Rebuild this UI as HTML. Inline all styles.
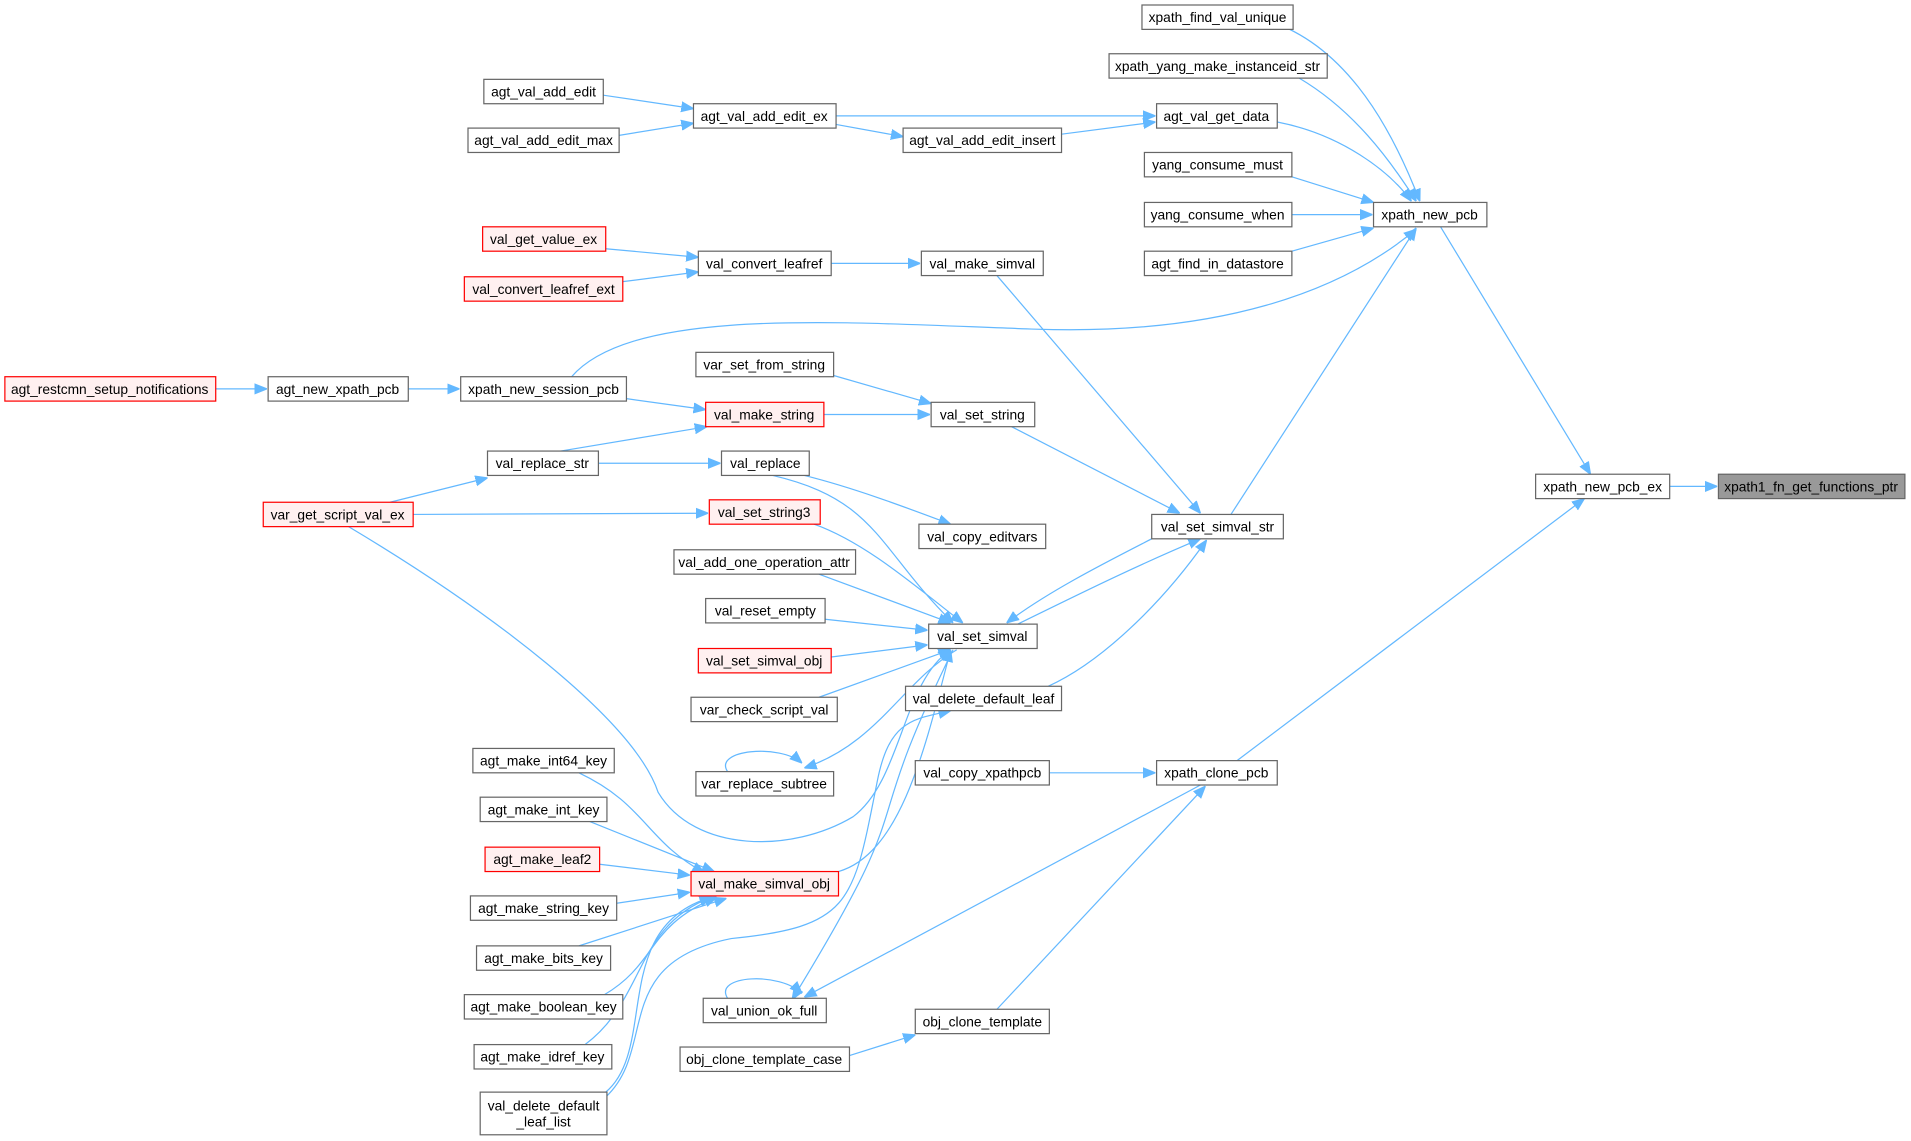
<!DOCTYPE html>
<html><head><meta charset="utf-8"><style>
html,body{margin:0;padding:0;background:#fff;}
svg{display:block}
text{font-family:"Liberation Sans",Arial,sans-serif;font-size:11.3px;fill:#000;text-anchor:middle}
.n{fill:#fff;stroke:#666;stroke-width:1}
.r{fill:#fff0f0;stroke:#ff0000;stroke-width:1}
.g{fill:#999;stroke:#666;stroke-width:1}
path.e{fill:none;stroke:#63b8ff;stroke-width:1}
</style></head><body>
<svg width="1911" height="1141" viewBox="0 0 1568 936" xmlns="http://www.w3.org/2000/svg">
<defs><marker id="a" viewBox="0 0 10 10" refX="10" refY="5" markerWidth="10" markerHeight="10" markerUnits="userSpaceOnUse" orient="auto"><path d="M0,1 L10,5 L0,9 z" fill="#63b8ff" stroke="#63b8ff"/></marker></defs>
<g>
<path class="e" marker-end="url(#a)" d="M1370,399 L1409,399"/>
<path class="e" marker-end="url(#a)" d="M1182,186 L1305,389"/>
<path class="e" marker-end="url(#a)" d="M1015,624 L1300,409"/>
<path class="e" marker-end="url(#a)" d="M1030,14 C1100,30 1140,100 1165,165"/>
<path class="e" marker-end="url(#a)" d="M1066,64 C1110,90 1140,130 1162,165"/>
<path class="e" marker-end="url(#a)" d="M1048,100 C1100,110 1140,140 1158,165"/>
<path class="e" marker-end="url(#a)" d="M1060,145 L1127,166"/>
<path class="e" marker-end="url(#a)" d="M1060,176 L1126,176"/>
<path class="e" marker-end="url(#a)" d="M1060,206 L1127,187"/>
<path class="e" marker-end="url(#a)" d="M1010,422 L1162,187"/>
<path class="e" marker-end="url(#a)" d="M469,309 C520,250 700,265 850,270 C1000,275 1100,240 1162,188"/>
<path class="e" marker-end="url(#a)" d="M495,78 L569,89"/>
<path class="e" marker-end="url(#a)" d="M508,111 L569,101"/>
<path class="e" marker-end="url(#a)" d="M686,95 L948,95"/>
<path class="e" marker-end="url(#a)" d="M686,102 L741,112"/>
<path class="e" marker-end="url(#a)" d="M871,110 L948,100"/>
<path class="e" marker-end="url(#a)" d="M497,204 L573,211"/>
<path class="e" marker-end="url(#a)" d="M511,231 L573,223"/>
<path class="e" marker-end="url(#a)" d="M682,216 L755,216"/>
<path class="e" marker-end="url(#a)" d="M818,226 L985,421"/>
<path class="e" marker-end="url(#a)" d="M684,308 L764,331"/>
<path class="e" marker-end="url(#a)" d="M676,340 L763,340"/>
<path class="e" marker-end="url(#a)" d="M830,350 L968,421"/>
<path class="e" marker-end="url(#a)" d="M177,319 L219,319"/>
<path class="e" marker-end="url(#a)" d="M335,319 L377,319"/>
<path class="e" marker-end="url(#a)" d="M514,327 L579,336"/>
<path class="e" marker-end="url(#a)" d="M460,370 L580,350"/>
<path class="e" marker-end="url(#a)" d="M491,380 L591,380"/>
<path class="e" marker-end="url(#a)" d="M320,412 L400,392"/>
<path class="e" marker-end="url(#a)" d="M339,422 L581,421"/>
<path class="e" marker-end="url(#a)" d="M660,390 C700,400 740,415 780,430"/>
<path class="e" marker-end="url(#a)" d="M634,390 C720,410 720,450 782,511"/>
<path class="e" marker-end="url(#a)" d="M668,430 C710,445 750,480 790,511"/>
<path class="e" marker-end="url(#a)" d="M672,471 L780,511"/>
<path class="e" marker-end="url(#a)" d="M677,508 L761,517"/>
<path class="e" marker-end="url(#a)" d="M682,539 L761,529"/>
<path class="e" marker-end="url(#a)" d="M672,572 L780,533"/>
<path class="e" marker-end="url(#a)" d="M945,442 C910,460 860,485 826,511"/>
<path class="e" marker-end="url(#a)" d="M835,512 C880,490 930,465 985,442"/>
<path class="e" marker-end="url(#a)" d="M286,432 C400,500 520,590 540,650 C570,700 650,700 700,670 C740,640 740,560 780,533"/>
<path class="e" marker-end="url(#a)" d="M785,533 C740,560 720,610 660,630"/>
<path class="e" marker-end="url(#a)" d="M597,633 C585,615 640,610 658,626"/>
<path class="e" marker-end="url(#a)" d="M688,715 C740,700 760,610 780,533"/>
<path class="e" marker-end="url(#a)" d="M860,563 C900,545 950,500 990,443"/>
<path class="e" marker-end="url(#a)" d="M861,634 L948,634"/>
<path class="e" marker-end="url(#a)" d="M985,644 L660,818"/>
<path class="e" marker-end="url(#a)" d="M818,828 L989,645"/>
<path class="e" marker-end="url(#a)" d="M597,819 C585,800 640,797 658,815"/>
<path class="e" marker-end="url(#a)" d="M782,533 C700,700 760,640 650,820"/>
<path class="e" marker-end="url(#a)" d="M697,866 L751,849"/>
<path class="e" marker-end="url(#a)" d="M475,634 C530,660 530,690 578,716"/>
<path class="e" marker-end="url(#a)" d="M484,674 L586,715"/>
<path class="e" marker-end="url(#a)" d="M492,709 L566,718"/>
<path class="e" marker-end="url(#a)" d="M506,741 L566,732"/>
<path class="e" marker-end="url(#a)" d="M475,776 L596,737"/>
<path class="e" marker-end="url(#a)" d="M496,816 C540,790 530,760 588,736"/>
<path class="e" marker-end="url(#a)" d="M480,857 C530,820 520,760 584,736"/>
<path class="e" marker-end="url(#a)" d="M497,896 C540,860 500,760 584,736"/>
<path class="e" marker-end="url(#a)" d="M497,900 C540,860 500,790 600,770 C700,760 700,740 720,640 C730,590 750,590 780,583"/>
</g>
<g>
<rect class="g" x="1410" y="389" width="153" height="20"/><text x="1486" y="403">xpath1_fn_get_functions_ptr</text>
<rect class="n" x="1260" y="389" width="110" height="20"/><text x="1315" y="403">xpath_new_pcb_ex</text>
<rect class="n" x="1127" y="166" width="93" height="20"/><text x="1173" y="180">xpath_new_pcb</text>
<rect class="n" x="949" y="624" width="99" height="20"/><text x="998" y="638">xpath_clone_pcb</text>
<rect class="n" x="937" y="4" width="124" height="20"/><text x="999" y="18">xpath_find_val_unique</text>
<rect class="n" x="910" y="44" width="179" height="20"/><text x="999" y="58">xpath_yang_make_instanceid_str</text>
<rect class="n" x="949" y="85" width="99" height="20"/><text x="998" y="99">agt_val_get_data</text>
<rect class="n" x="939" y="125" width="121" height="20"/><text x="999" y="139">yang_consume_must</text>
<rect class="n" x="939" y="166" width="121" height="20"/><text x="999" y="180">yang_consume_when</text>
<rect class="n" x="939" y="206" width="121" height="20"/><text x="999" y="220">agt_find_in_datastore</text>
<rect class="n" x="945" y="422" width="108" height="20"/><text x="999" y="436">val_set_simval_str</text>
<rect class="n" x="751" y="624" width="110" height="20"/><text x="806" y="638">val_copy_xpathpcb</text>
<rect class="n" x="751" y="828" width="110" height="20"/><text x="806" y="842">obj_clone_template</text>
<rect class="n" x="741" y="105" width="130" height="20"/><text x="806" y="119">agt_val_add_edit_insert</text>
<rect class="n" x="569" y="85" width="117" height="20"/><text x="627" y="99">agt_val_add_edit_ex</text>
<rect class="n" x="397" y="65" width="98" height="20"/><text x="446" y="79">agt_val_add_edit</text>
<rect class="n" x="384" y="105" width="124" height="20"/><text x="446" y="119">agt_val_add_edit_max</text>
<rect class="n" x="756" y="206" width="100" height="20"/><text x="806" y="220">val_make_simval</text>
<rect class="n" x="573" y="206" width="109" height="20"/><text x="627" y="220">val_convert_leafref</text>
<rect class="r" x="396" y="186" width="101" height="20"/><text x="446" y="200">val_get_value_ex</text>
<rect class="r" x="381" y="227" width="130" height="20"/><text x="446" y="241">val_convert_leafref_ext</text>
<rect class="n" x="764" y="330" width="85" height="20"/><text x="806" y="344">val_set_string</text>
<rect class="n" x="571" y="289" width="113" height="20"/><text x="627" y="303">var_set_from_string</text>
<rect class="r" x="579" y="330" width="97" height="20"/><text x="627" y="344">val_make_string</text>
<rect class="n" x="378" y="309" width="136" height="20"/><text x="446" y="323">xpath_new_session_pcb</text>
<rect class="n" x="220" y="309" width="115" height="20"/><text x="277" y="323">agt_new_xpath_pcb</text>
<rect class="r" x="4" y="309" width="173" height="20"/><text x="90" y="323">agt_restcmn_setup_notifications</text>
<rect class="n" x="400" y="370" width="91" height="20"/><text x="445" y="384">val_replace_str</text>
<rect class="n" x="592" y="370" width="72" height="20"/><text x="628" y="384">val_replace</text>
<rect class="r" x="216" y="412" width="123" height="20"/><text x="277" y="426">var_get_script_val_ex</text>
<rect class="r" x="582" y="410" width="91" height="20"/><text x="627" y="424">val_set_string3</text>
<rect class="n" x="754" y="430" width="104" height="20"/><text x="806" y="444">val_copy_editvars</text>
<rect class="n" x="553" y="451" width="149" height="20"/><text x="627" y="465">val_add_one_operation_attr</text>
<rect class="n" x="579" y="491" width="98" height="20"/><text x="628" y="505">val_reset_empty</text>
<rect class="n" x="762" y="512" width="89" height="20"/><text x="806" y="526">val_set_simval</text>
<rect class="r" x="573" y="532" width="109" height="20"/><text x="627" y="546">val_set_simval_obj</text>
<rect class="n" x="567" y="572" width="120" height="20"/><text x="627" y="586">var_check_script_val</text>
<rect class="n" x="743" y="563" width="128" height="20"/><text x="807" y="577">val_delete_default_leaf</text>
<rect class="n" x="571" y="633" width="113" height="20"/><text x="627" y="647">var_replace_subtree</text>
<rect class="n" x="388" y="614" width="116" height="20"/><text x="446" y="628">agt_make_int64_key</text>
<rect class="n" x="394" y="654" width="104" height="20"/><text x="446" y="668">agt_make_int_key</text>
<rect class="r" x="398" y="695" width="94" height="20"/><text x="445" y="709">agt_make_leaf2</text>
<rect class="r" x="567" y="715" width="121" height="20"/><text x="627" y="729">val_make_simval_obj</text>
<rect class="n" x="386" y="735" width="120" height="20"/><text x="446" y="749">agt_make_string_key</text>
<rect class="n" x="391" y="776" width="110" height="20"/><text x="446" y="790">agt_make_bits_key</text>
<rect class="n" x="381" y="816" width="130" height="20"/><text x="446" y="830">agt_make_boolean_key</text>
<rect class="n" x="389" y="857" width="113" height="20"/><text x="445" y="871">agt_make_idref_key</text>
<rect class="n" x="394" y="896" width="104" height="35"/><text x="446" y="911">val_delete_default</text><text x="446" y="924">_leaf_list</text>
<rect class="n" x="577" y="819" width="101" height="20"/><text x="627" y="833">val_union_ok_full</text>
<rect class="n" x="558" y="859" width="139" height="20"/><text x="627" y="873">obj_clone_template_case</text>
</g>
</svg>
</body></html>
